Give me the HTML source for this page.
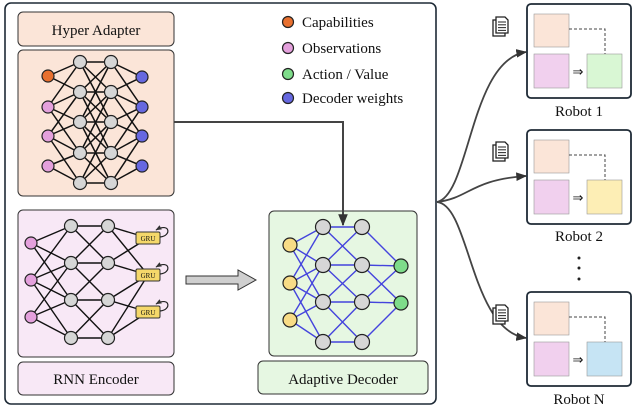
<!DOCTYPE html>
<html><head><meta charset="utf-8"><style>
html,body{margin:0;padding:0;background:#fff;width:640px;height:413px;overflow:hidden}
svg{display:block}
text{font-family:"Liberation Serif",serif;fill:#111}
</style></head><body>
<svg id="s" width="640" height="413" viewBox="0 0 640 413" xmlns="http://www.w3.org/2000/svg">
<defs>
<marker id="ah" viewBox="0 0 10 10" refX="9" refY="5" markerWidth="6" markerHeight="6" orient="auto"><path d="M0,1 L10,5 L0,9 z" fill="#333"/></marker>
<marker id="ah2" viewBox="0 0 10 10" refX="9" refY="5" markerWidth="5" markerHeight="5" orient="auto"><path d="M0,1 L10,5 L0,9 z" fill="#333"/></marker>
</defs>
<rect x="5" y="3" width="431" height="401" rx="6" fill="#fff" stroke="#1e2a36" stroke-width="1.6"/>
<rect x="18" y="12" width="156" height="34" rx="5" fill="#fbe5d8" stroke="#333" stroke-width="1"/>
<text x="96" y="35" font-size="15" text-anchor="middle">Hyper Adapter</text>
<rect x="18" y="50" width="156" height="146" rx="5" fill="#fbe5d8" stroke="#333" stroke-width="1"/>
<rect x="18" y="210" width="156" height="147" rx="5" fill="#f8e8f6" stroke="#333" stroke-width="1"/>
<rect x="18" y="362" width="156" height="33" rx="5" fill="#f8e8f6" stroke="#333" stroke-width="1"/>
<text x="96" y="384" font-size="15" text-anchor="middle">RNN Encoder</text>
<rect x="269" y="211" width="148" height="145" rx="5" fill="#e6f7e2" stroke="#333" stroke-width="1"/>
<rect x="258" y="361" width="170" height="33" rx="5" fill="#e6f7e2" stroke="#333" stroke-width="1"/>
<text x="343" y="384" font-size="15" text-anchor="middle">Adaptive Decoder</text>
<path d="M174,122 H343 V225" fill="none" stroke="#444" stroke-width="2" marker-end="url(#ah)"/>
<path d="M186,276 H238 V270 L256,280 L238,290 V284 H186 Z" fill="#cfcfcf" stroke="#333" stroke-width="1"/>
<g stroke="#222" stroke-width="1.2">
<circle cx="288" cy="22" r="5.5" fill="#e8702f"/>
<circle cx="288" cy="48" r="5.5" fill="#e4a0dc"/>
<circle cx="288" cy="74" r="5.5" fill="#7edc8a"/>
<circle cx="288" cy="98" r="5.5" fill="#6668e0"/>
</g>
<text x="302" y="27" font-size="15">Capabilities</text>
<text x="302" y="53" font-size="15">Observations</text>
<text x="302" y="79" font-size="15">Action / Value</text>
<text x="302" y="103" font-size="15">Decoder weights</text>
<g id="nets"></g>
<g fill="none" stroke="#444" stroke-width="1.8">
<path d="M437,202 C470,195 470,60 526,52" marker-end="url(#ah)"/>
<path d="M437,202 C470,198 470,180 526,176" marker-end="url(#ah)"/>
<path d="M437,202 C470,205 470,330 526,338" marker-end="url(#ah)"/>
</g>
<g id="robots"></g>
<text x="579" y="116" font-size="15" text-anchor="middle">Robot 1</text>
<text x="579" y="241" font-size="15" text-anchor="middle">Robot 2</text>
<text x="579" y="404" font-size="15" text-anchor="middle">Robot N</text>
<circle cx="579" cy="258" r="1.5" fill="#222"/><circle cx="579" cy="268" r="1.5" fill="#222"/><circle cx="579" cy="279" r="1.5" fill="#222"/>
</svg>
<script>
var NS="http://www.w3.org/2000/svg";
function el(t,a,p){var e=document.createElementNS(NS,t);for(var k in a)e.setAttribute(k,a[k]);(p||document.getElementById('nets')).appendChild(e);return e;}
function layer(x,ys,c){return ys.map(function(y){return {x:x,y:y,c:c};});}
function conn(A,B,col,w,lim){A.forEach(function(a,i){B.forEach(function(b,j){
  var ri=A.length>1?i/(A.length-1):0.5, rj=B.length>1?j/(B.length-1):0.5;
  if(Math.abs(ri-rj)<=lim) el('line',{x1:a.x,y1:a.y,x2:b.x,y2:b.y,stroke:col,'stroke-width':w});});});}
function nodes(L,r){L.forEach(function(n){el('circle',{cx:n.x,cy:n.y,r:r,fill:n.c,stroke:'#222','stroke-width':1.2});});}
var G='#d6d6d6';
var hy=[62,92,122,153,183];
var a0=layer(48,[76,107,136,166],'#e8702f');a0[1].c=a0[2].c=a0[3].c='#e4a0dc';
var a1=layer(80,hy,G),a2=layer(111,hy,G),a3=layer(142,[77,107,136,166],'#6668e0');
conn(a0,a1,'#111',1.5,0.45);conn(a1,a2,'#111',1.5,0.5);conn(a2,a3,'#111',1.5,0.45);
nodes(a0,6);nodes(a1,6.5);nodes(a2,6.5);nodes(a3,6);
var ry=[226,263,300,338];
var b0=layer(31,[243,280,317],'#e4a0dc'),b1=layer(71,ry,G),b2=layer(108,ry,G),b3=layer(148,[238,275,312],'none');
conn(b0,b1,'#111',1.4,0.7);conn(b1,b2,'#111',1.4,0.4);conn(b2,b3,'#111',1.4,0.5);
nodes(b0,6);nodes(b1,6.5);nodes(b2,6.5);
b3.forEach(function(n){
  el('rect',{x:136,y:n.y-6,width:24,height:12,rx:1.5,fill:'#f5d86a',stroke:'#333','stroke-width':1});
  var t=el('text',{x:148,y:n.y+3,'font-size':7,'text-anchor':'middle'});t.textContent='GRU';
  el('path',{d:'M160,'+(n.y-1)+' C172,'+(n.y-2)+' 170,'+(n.y-16)+' 156,'+(n.y-8),fill:'none',stroke:'#222','stroke-width':1.2,'marker-end':'url(#ah2)'});
});
var dy=[227,265,302,342];
var c0=layer(290,[245,283,320],'#f8dc86'),c1=layer(323,dy,G),c2=layer(362,dy,G),c3=layer(401,[266,303],'#7edc8a');
conn(c0,c1,'#4444dd',1.4,0.7);conn(c1,c2,'#4444dd',1.4,0.4);conn(c2,c3,'#4444dd',1.4,0.7);
nodes(c0,7);nodes(c1,7.5);nodes(c2,7.5);nodes(c3,7);
var R=document.getElementById('robots');
[[4,'#d9f7d4'],[130,'#fdeeb5'],[292,'#c6e4f4']].forEach(function(r){
  var y=r[0];
  el('rect',{x:527,y:y,width:104,height:94,rx:4,fill:'#fff',stroke:'#1e2a36','stroke-width':1.8},R);
  el('rect',{x:534,y:y+10,width:35,height:33,fill:'#fbe5d8',stroke:'#999','stroke-width':0.6},R);
  el('rect',{x:534,y:y+50,width:35,height:34,fill:'#f1d0ee',stroke:'#999','stroke-width':0.6},R);
  el('rect',{x:587,y:y+50,width:35,height:34,fill:r[1],stroke:'#999','stroke-width':0.6},R);
  el('path',{d:'M569,'+(y+25)+' H605 V'+(y+50),fill:'none',stroke:'#444','stroke-width':1,'stroke-dasharray':'3,2'},R);
  var t=el('text',{x:578,y:y+72,'font-size':13,'text-anchor':'middle',fill:'#555'},R);t.textContent='⇒';
});
[[500,30],[500,155],[500,318]].forEach(function(p){
  var x=p[0]-7,y=p[1]-10;
  el('rect',{x:x,y:y,width:12,height:16,fill:'#fff',stroke:'#222','stroke-width':1.3},R);
  el('path',{d:'M'+(x+3)+','+(y-3)+' h9 l3,3 v13 h-12 z',fill:'#fff',stroke:'#222','stroke-width':1.3},R);
  for(var i=0;i<4;i++)el('line',{x1:x+5,y1:y+2+i*2.8,x2:x+13,y2:y+2+i*2.8,stroke:'#333','stroke-width':1.1},R);
});
</script>
</body></html>
